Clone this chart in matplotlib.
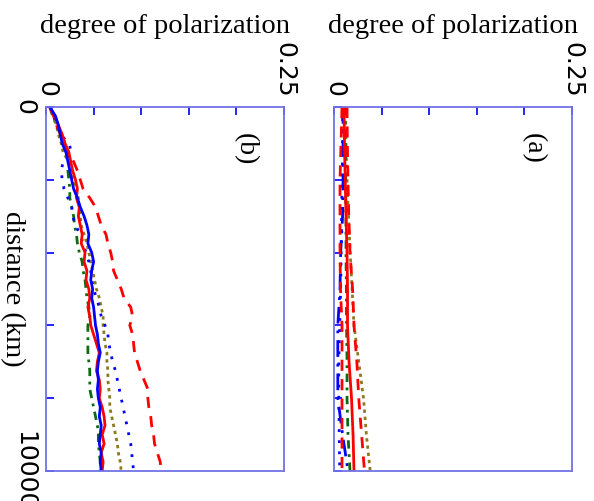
import numpy as np
import matplotlib
matplotlib.use("Agg")
import matplotlib.pyplot as plt

# distance samples (km)
dist_a = [0, 1000, 2000, 3000, 4000, 5000, 6000, 7000, 8000, 9000, 10000]
dist_b = list(np.linspace(0, 10000, 41))

# panel (a): degree of polarization
a_red_solid = [.0105, .011, .0118, .0126, .0137, .0142, .0142, .0158, .0184, .020, .021]
a_red_dash = [.0137, .014, .0147, .0155, .0168, .0195, .021, .024, .026, .029, .032]
a_red_dash2 = [.0084, .0074, .0063, .0063, .0063, .0068, .0084, .0084, .0084, .0084, .0084]
a_olive_dot = [.012, .0126, .0137, .0152, .017, .019, .021, .026, .031, .034, .038]
a_green_dashdot = [.0116, .012, .0122, .0126, .0126, .013, .0132, .0137, .0137, .0147, .0168]
a_blue_dashdot = [.0095, .0095, .0095, .009, .007, .0063, .004, .004, .004, .009, .0147]
a_blue_dot = [.009, .009, .0085, .008, .0075, .007, .006, .005, .005, .0055, .006]

# panel (b): degree of polarization
b_red_solid = [.004, .009, .013, .017, .020, .024, .026, .028, .031, .033, .032,
               .035, .034, .036, .038, .037, .041, .040, .043, .042, .045, .046,
               .044, .046, .047, .050, .053, .056, .054, .053, .056, .057, .056,
               .059, .061, .062, .059, .061, .058, .060, .059]
b_blue_solid = [.004, .010, .013, .015, .017, .021, .023, .025, .027, .029, .033,
                .036, .040, .043, .045, .044, .048, .050, .048, .047, .049, .048,
                .050, .051, .052, .054, .055, .057, .055, .054, .055, .054, .055,
                .057, .056, .058, .057, .056, .058, .057, .058]
b_green_dashdot = [.004, .007, .011, .016, .020, .022, .024, .023, .024, .025, .025,
                   .027, .029, .030, .032, .033, .035, .038, .039, .041, .042, .043,
                   .045, .046, .044, .044, .044, .044, .045, .046, .046, .046, .048,
                   .050, .052, .054, .055, .055, .056, .057, .057]
b_olive_dot = [.005, .008, .011, .013, .016, .018, .024, .027, .029, .031, .034,
               .035, .036, .037, .040, .043, .045, .047, .049, .051, .053, .056,
               .058, .060, .060, .061, .062, .064, .064, .065, .065, .066, .067,
               .067, .069, .071, .073, .075, .076, .078, .079]
b_blue_dot = [.004, .008, .011, .015, .024, .027, .018, .016, .017, .019, .023,
              .027, .028, .031, .036, .039, .042, .045, .047, .048, .050, .053,
              .056, .058, .062, .065, .066, .068, .070, .073, .075, .077, .079,
              .081, .083, .085, .087, .089, .090, .091, .092]
b_red_dash = [.004, .008, .011, .015, .019, .024, .029, .033, .036, .039, .046,
              .052, .055, .058, .063, .065, .068, .070, .071, .075, .079, .082,
              .089, .091, .088, .091, .092, .093, .096, .099, .103, .107, .107,
              .108, .110, .111, .113, .114, .117, .120, .121]

pol_ticks = [0, 0.05, 0.10, 0.15, 0.20, 0.25]
pol_labels = ["0", "", "", "", "", "0.25"]
dist_ticks = [0, 2000, 4000, 6000, 8000, 10000]
dist_labels = ["0", "", "", "", "", "10000"]

RED = "#ff0000"
BLUE = "#0000ff"
GREEN = "#0b6b12"
OLIVE = "#8c7a1e"
SPINE = "#7272e6"

serif = ["Liberation Serif", "DejaVu Serif"]

fig = plt.figure(figsize=(5.94, 5.01), dpi=100)
ax_b = fig.add_axes([46 / 594, 30 / 501, 238 / 594, 364 / 501])
ax_a = fig.add_axes([334 / 594, 30 / 501, 238 / 594, 364 / 501])

lw = 2.0
# panel (a)
ax_a.plot(a_olive_dot, dist_a, color=OLIVE, lw=lw, ls=(0, (1.2, 1.4)))
ax_a.plot(a_blue_dot, dist_a, color=BLUE, lw=lw, ls=(0, (1, 3)))
ax_a.plot(a_blue_dashdot, dist_a, color=BLUE, lw=lw, ls=(0, (6, 2.5, 1, 2.5)))
ax_a.plot(a_green_dashdot, dist_a, color=GREEN, lw=lw, ls=(0, (3, 2, 1, 2)))
ax_a.plot(a_red_dash2, dist_a, color=RED, lw=lw, ls=(0, (4, 3)))
ax_a.plot(a_red_dash, dist_a, color=RED, lw=lw, ls=(0, (4, 3)))
ax_a.plot(a_red_solid, dist_a, color=RED, lw=lw, ls="-")

# panel (b)
ax_b.plot(b_green_dashdot, dist_b, color=GREEN, lw=lw, ls=(0, (3, 2, 1, 2)))
ax_b.plot(b_olive_dot, dist_b, color=OLIVE, lw=lw, ls=(0, (1.2, 1.4)))
ax_b.plot(b_blue_dot, dist_b, color=BLUE, lw=lw, ls=(0, (1, 3)))
ax_b.plot(b_red_dash, dist_b, color=RED, lw=lw, ls=(0, (4, 3)))
ax_b.plot(b_red_solid, dist_b, color=RED, lw=lw, ls="-")
ax_b.plot(b_blue_solid, dist_b, color=BLUE, lw=lw, ls="-")

for ax, tag in ((ax_b, "(b)"), (ax_a, "(a)")):
    ax.set_xlim(0, 0.25)
    ax.set_ylim(10000, 0)
    ax.xaxis.tick_top()
    ax.set_xticks(pol_ticks)
    ax.set_xticklabels(pol_labels, rotation=-90, fontsize=18,
                       family="DejaVu Sans", va="bottom")
    ax.set_yticks(dist_ticks)
    ax.tick_params(axis="both", direction="in", length=6, width=1.2,
                   colors=BLUE, labelcolor="black", pad=7)
    ax.tick_params(axis="x", top=True, bottom=False)
    ax.tick_params(axis="y", left=True, right=False)
    for s in ax.spines.values():
        s.set_color(SPINE)
        s.set_linewidth(1.3)
    ax.set_xlabel("degree of polarization", fontsize=20.5, family=serif,
                  labelpad=6)
    ax.xaxis.set_label_position("top")
    ax.text(0.835, 0.885, tag, transform=ax.transAxes, rotation=-90,
            fontsize=20, family=serif, ha="center", va="center")

ax_b.set_yticklabels(dist_labels, rotation=-90, fontsize=18,
                     family="DejaVu Sans", va="center")
ax_a.set_yticklabels([])

ax_b.set_ylabel("distance (km)", fontsize=20.5, family=serif, rotation=-90,
                ha="center", va="center")
ax_b.yaxis.set_label_coords(-0.142, 0.5)

fig.savefig("out.png", dpi=100)
